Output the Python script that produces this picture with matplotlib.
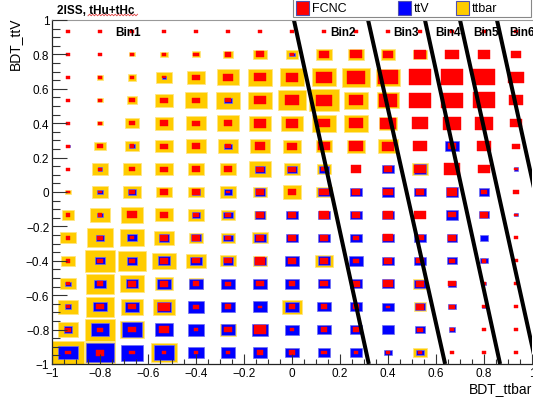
import numpy as np
import matplotlib
matplotlib.use("Agg")
import matplotlib.pyplot as plt
from matplotlib.patches import Rectangle
from matplotlib.lines import Line2D
from matplotlib.ticker import MultipleLocator, FuncFormatter

plt.rcParams['font.family'] = ['Liberation Sans', 'DejaVu Sans']

# ---------------- data ----------------
# 15 x 15 bins on [-1,1] x [-1,1]; rows listed from top (BDT_ttV ~ 0.93) to bottom (~ -0.93),
# columns from BDT_ttbar ~ -0.93 to 0.93. Values: relative box size in percent of the largest box.
n_bins = 15

fcnc_size = [
    [13, 13, 13, 13, 13, 13, 13, 13, 13, 13, 13, 13, 13, 13, 13],
    [13, 13, 14, 15, 16, 19, 26, 10, 30, 35, 30, 38, 42, 38, 30],
    [13, 15, 15, 10, 22, 30, 35, 40, 49, 57, 62, 69, 70, 70, 50],
    [13, 13, 18, 22, 24, 18, 35, 42, 47, 42, 55, 67, 67, 68, 45],
    [13, 13, 18, 25, 22, 25, 38, 40, 36, 42, 47, 52, 57, 56, 36],
    [13, 18, 15, 22, 28, 18, 33, 30, 38, 42, 40, 46, 27, 43, 22],
    [13, 13, 20, 22, 25, 25, 22, 22, 20, 33, 27, 38, 49, 38, 12],
    [13, 13, 20, 22, 22, 12, 28, 28, 30, 24, 29, 23, 33, 20, 16],
    [15, 14, 31, 28, 16, 18, 28, 26, 32, 28, 33, 37, 22, 24, 10],
    [15, 20, 12, 25, 27, 20, 28, 25, 26, 16, 30, 22, 25, 0, 13],
    [15, 18, 17, 28, 22, 22, 33, 26, 28, 17, 24, 22, 18, 15, 13],
    [13, 20, 28, 25, 20, 17, 23, 20, 22, 28, 30, 25, 22, 12, 12],
    [12, 23, 22, 36, 17, 20, 10, 20, 20, 20, 10, 25, 16, 13, 13],
    [17, 17, 24, 32, 15, 25, 36, 10, 20, 20, 0, 17, 13, 13, 13],
    [17, 26, 16, 10, 10, 10, 18, 20, 16, 11, 14, 15, 13, 13, 13],
]

ttv_size = [
    [0, 0, 0, 0, 0, 0, 0, 0, 0, 0, 0, 0, 0, 0, 0],
    [0, 0, 0, 0, 0, 0, 0, 16, 0, 0, 0, 0, 0, 0, 0],
    [0, 0, 0, 13, 0, 0, 0, 0, 0, 0, 0, 0, 0, 0, 0],
    [0, 0, 0, 0, 0, 22, 0, 0, 0, 0, 0, 0, 0, 0, 0],
    [0, 0, 0, 0, 0, 0, 0, 0, 0, 0, 0, 0, 0, 0, 0],
    [10, 0, 18, 0, 0, 22, 0, 0, 0, 0, 0, 0, 42, 0, 0],
    [0, 15, 0, 0, 0, 0, 31, 31, 31, 0, 37, 40, 0, 0, 15],
    [0, 17, 28, 0, 28, 24, 34, 0, 35, 36, 40, 35, 40, 31, 0],
    [0, 21, 0, 0, 26, 29, 34, 37, 36, 36, 36, 0, 40, 31, 13],
    [0, 26, 31, 34, 31, 29, 35, 37, 38, 36, 36, 35, 33, 26, 0],
    [0, 31, 33, 39, 36, 34, 35, 42, 38, 42, 36, 35, 29, 22, 0],
    [18, 36, 40, 44, 42, 42, 42, 42, 38, 40, 38, 35, 28, 14, 0],
    [21, 42, 44, 45, 51, 44, 46, 44, 41, 37, 36, 31, 24, 10, 0],
    [28, 56, 62, 57, 52, 46, 52, 44, 41, 39, 36, 31, 19, 0, 0],
    [60, 85, 70, 64, 52, 45, 44, 42, 38, 36, 24, 23, 0, 0, 0],
]

ttbar_size = [
    [0, 0, 0, 0, 0, 0, 0, 0, 0, 0, 0, 0, 0, 0, 0],
    [0, 0, 17, 25, 27, 34, 42, 38, 50, 50, 45, 42, 0, 0, 0],
    [0, 20, 28, 50, 55, 70, 75, 78, 78, 85, 76, 0, 0, 0, 0],
    [0, 18, 34, 57, 68, 76, 75, 88, 95, 74, 70, 0, 0, 0, 0],
    [0, 18, 44, 57, 60, 68, 67, 67, 75, 73, 55, 0, 0, 0, 0],
    [0, 35, 44, 54, 60, 60, 60, 57, 50, 57, 60, 0, 0, 0, 0],
    [0, 50, 55, 55, 51, 52, 67, 52, 42, 0, 0, 52, 0, 0, 0],
    [16, 50, 55, 47, 47, 49, 45, 58, 47, 0, 0, 0, 0, 0, 0],
    [40, 62, 67, 57, 52, 44, 38, 0, 0, 0, 0, 0, 0, 0, 0],
    [49, 83, 75, 64, 45, 44, 47, 0, 0, 0, 0, 0, 0, 0, 0],
    [45, 96, 89, 72, 61, 49, 46, 0, 54, 0, 0, 0, 0, 0, 0],
    [49, 88, 73, 57, 46, 0, 0, 0, 0, 0, 0, 42, 0, 0, 0],
    [62, 88, 70, 70, 0, 0, 0, 62, 0, 0, 0, 37, 0, 0, 0],
    [65, 96, 73, 0, 0, 52, 0, 0, 0, 0, 0, 0, 0, 0, 0],
    [100, 91, 0, 80, 0, 0, 0, 0, 0, 0, 0, 42, 0, 0, 0],
]

# category boundaries (slanted lines): x at BDT_ttV = +1 and at BDT_ttV = -1
bin_line_top_x = [0.008, 0.317, 0.554, 0.700, 0.854]
bin_line_bottom_x = [0.320, 0.638, 0.867, 1.017, 1.170]
bin_labels = ['Bin1', 'Bin2', 'Bin3', 'Bin4', 'Bin5', 'Bin6']
bin_label_x = [-0.7375, 0.158, 0.421, 0.598, 0.756, 0.906]

series_names = ['FCNC', 'ttV', 'ttbar']
series_colors = ['#ff0000', '#0000ff', '#ffcc00']

# ---------------- figure ----------------
W, H = 533, 402
fig = plt.figure(figsize=(W / 100, H / 100), dpi=100)
ax = fig.add_axes([52 / W, (H - 365) / H, 480 / W, 344 / H])
ax.set_xlim(-1, 1)
ax.set_ylim(-1, 1)

edges = np.linspace(-1, 1, n_bins + 1)
centers = 0.5 * (edges[:-1] + edges[1:])
bw = edges[1] - edges[0]
X, Y = np.meshgrid(centers, centers[::-1])


def draw_boxes(sizes, color, edge, lw, z):
    s = np.asarray(sizes, dtype=float) / 100.0
    m = s > 0
    w = s[m] * bw
    h = s[m] * bw
    ax.bar(X[m], h, width=w, bottom=Y[m] - h / 2, color=color,
           edgecolor=edge, linewidth=lw, zorder=z)


draw_boxes(ttbar_size, series_colors[2], '#ffe680', 0.6, 1.0)
draw_boxes(ttv_size, series_colors[1], '#7070f0', 0.5, 1.1)
draw_boxes(fcnc_size, series_colors[0], '#ff0000', 0.3, 1.2)

for xt, xb in zip(bin_line_top_x, bin_line_bottom_x):
    ax.plot([xt, xb], [1, -1], color='black', lw=2.9, solid_capstyle='butt', zorder=2)

for lab, lx in zip(bin_labels, bin_label_x):
    ax.text(lx, 0.93, lab, fontsize=8.5, fontweight='bold', ha='left', va='center',
            zorder=3, clip_on=False)

# axes styling (ROOT-like)
ax.set_axisbelow(False)
for side in ['left', 'bottom']:
    ax.spines[side].set_color('#222222')
    ax.spines[side].set_linewidth(0.9)
ax.spines['top'].set_color('#999999')
ax.spines['top'].set_linewidth(0.8)
ax.spines['right'].set_visible(False)

for axis in (ax.xaxis, ax.yaxis):
    axis.set_major_locator(MultipleLocator(0.2))
    axis.set_minor_locator(MultipleLocator(0.05))
    axis.set_major_formatter(FuncFormatter(
        lambda v, p: f"{round(v, 3) + 0.0:g}".replace('-', '\u2212')))

ax.tick_params(which='both', direction='in', top=False, right=False,
               color='#333333', width=0.8, labelsize=8.5)
ax.tick_params(axis='x', which='major', length=7.2, pad=2)
ax.tick_params(axis='x', which='minor', length=3.6)
ax.tick_params(axis='y', which='major', length=10.5, pad=2)
ax.tick_params(axis='y', which='minor', length=5.4)

# titles
fig.text(57 / W, 1 - 10.5 / H, '2lSS, tHu+tHc', fontsize=8.5, fontweight='bold',
         ha='left', va='center')
sx = np.arange(88, 139, 1.6)
sy = 16 + 0.8 * (-1) ** np.arange(len(sx))
fig.add_artist(Line2D(sx / W, 1 - sy / H, color='#e04040', lw=0.6,
                      transform=fig.transFigure))
fig.text(15 / W, 1 - 18 / H, 'BDT_ttV', rotation=90, fontsize=10,
         ha='center', va='top')
fig.text(532 / W, 1 - 389 / H, 'BDT_ttbar', fontsize=10, ha='right', va='center')

# legend (ROOT TLegend look)
fig.add_artist(Rectangle((293 / W, 1 - 18.3 / H), 238 / W, 20 / H,
                         transform=fig.transFigure, facecolor='white',
                         edgecolor='#888888', lw=0.8))
leg_key_x = [296, 398, 456]
leg_text_x = [312, 414, 472]
for name, col, kx, tx in zip(series_names, series_colors, leg_key_x, leg_text_x):
    fig.add_artist(Rectangle((kx / W, 1 - 16 / H), 13 / W, 14 / H,
                             transform=fig.transFigure, facecolor=col,
                             edgecolor='#5050b0', lw=0.8))
    fig.text(tx / W, 1 - 9.5 / H, name, fontsize=9, ha='left', va='center')

fig.savefig('out.png', dpi=100)
